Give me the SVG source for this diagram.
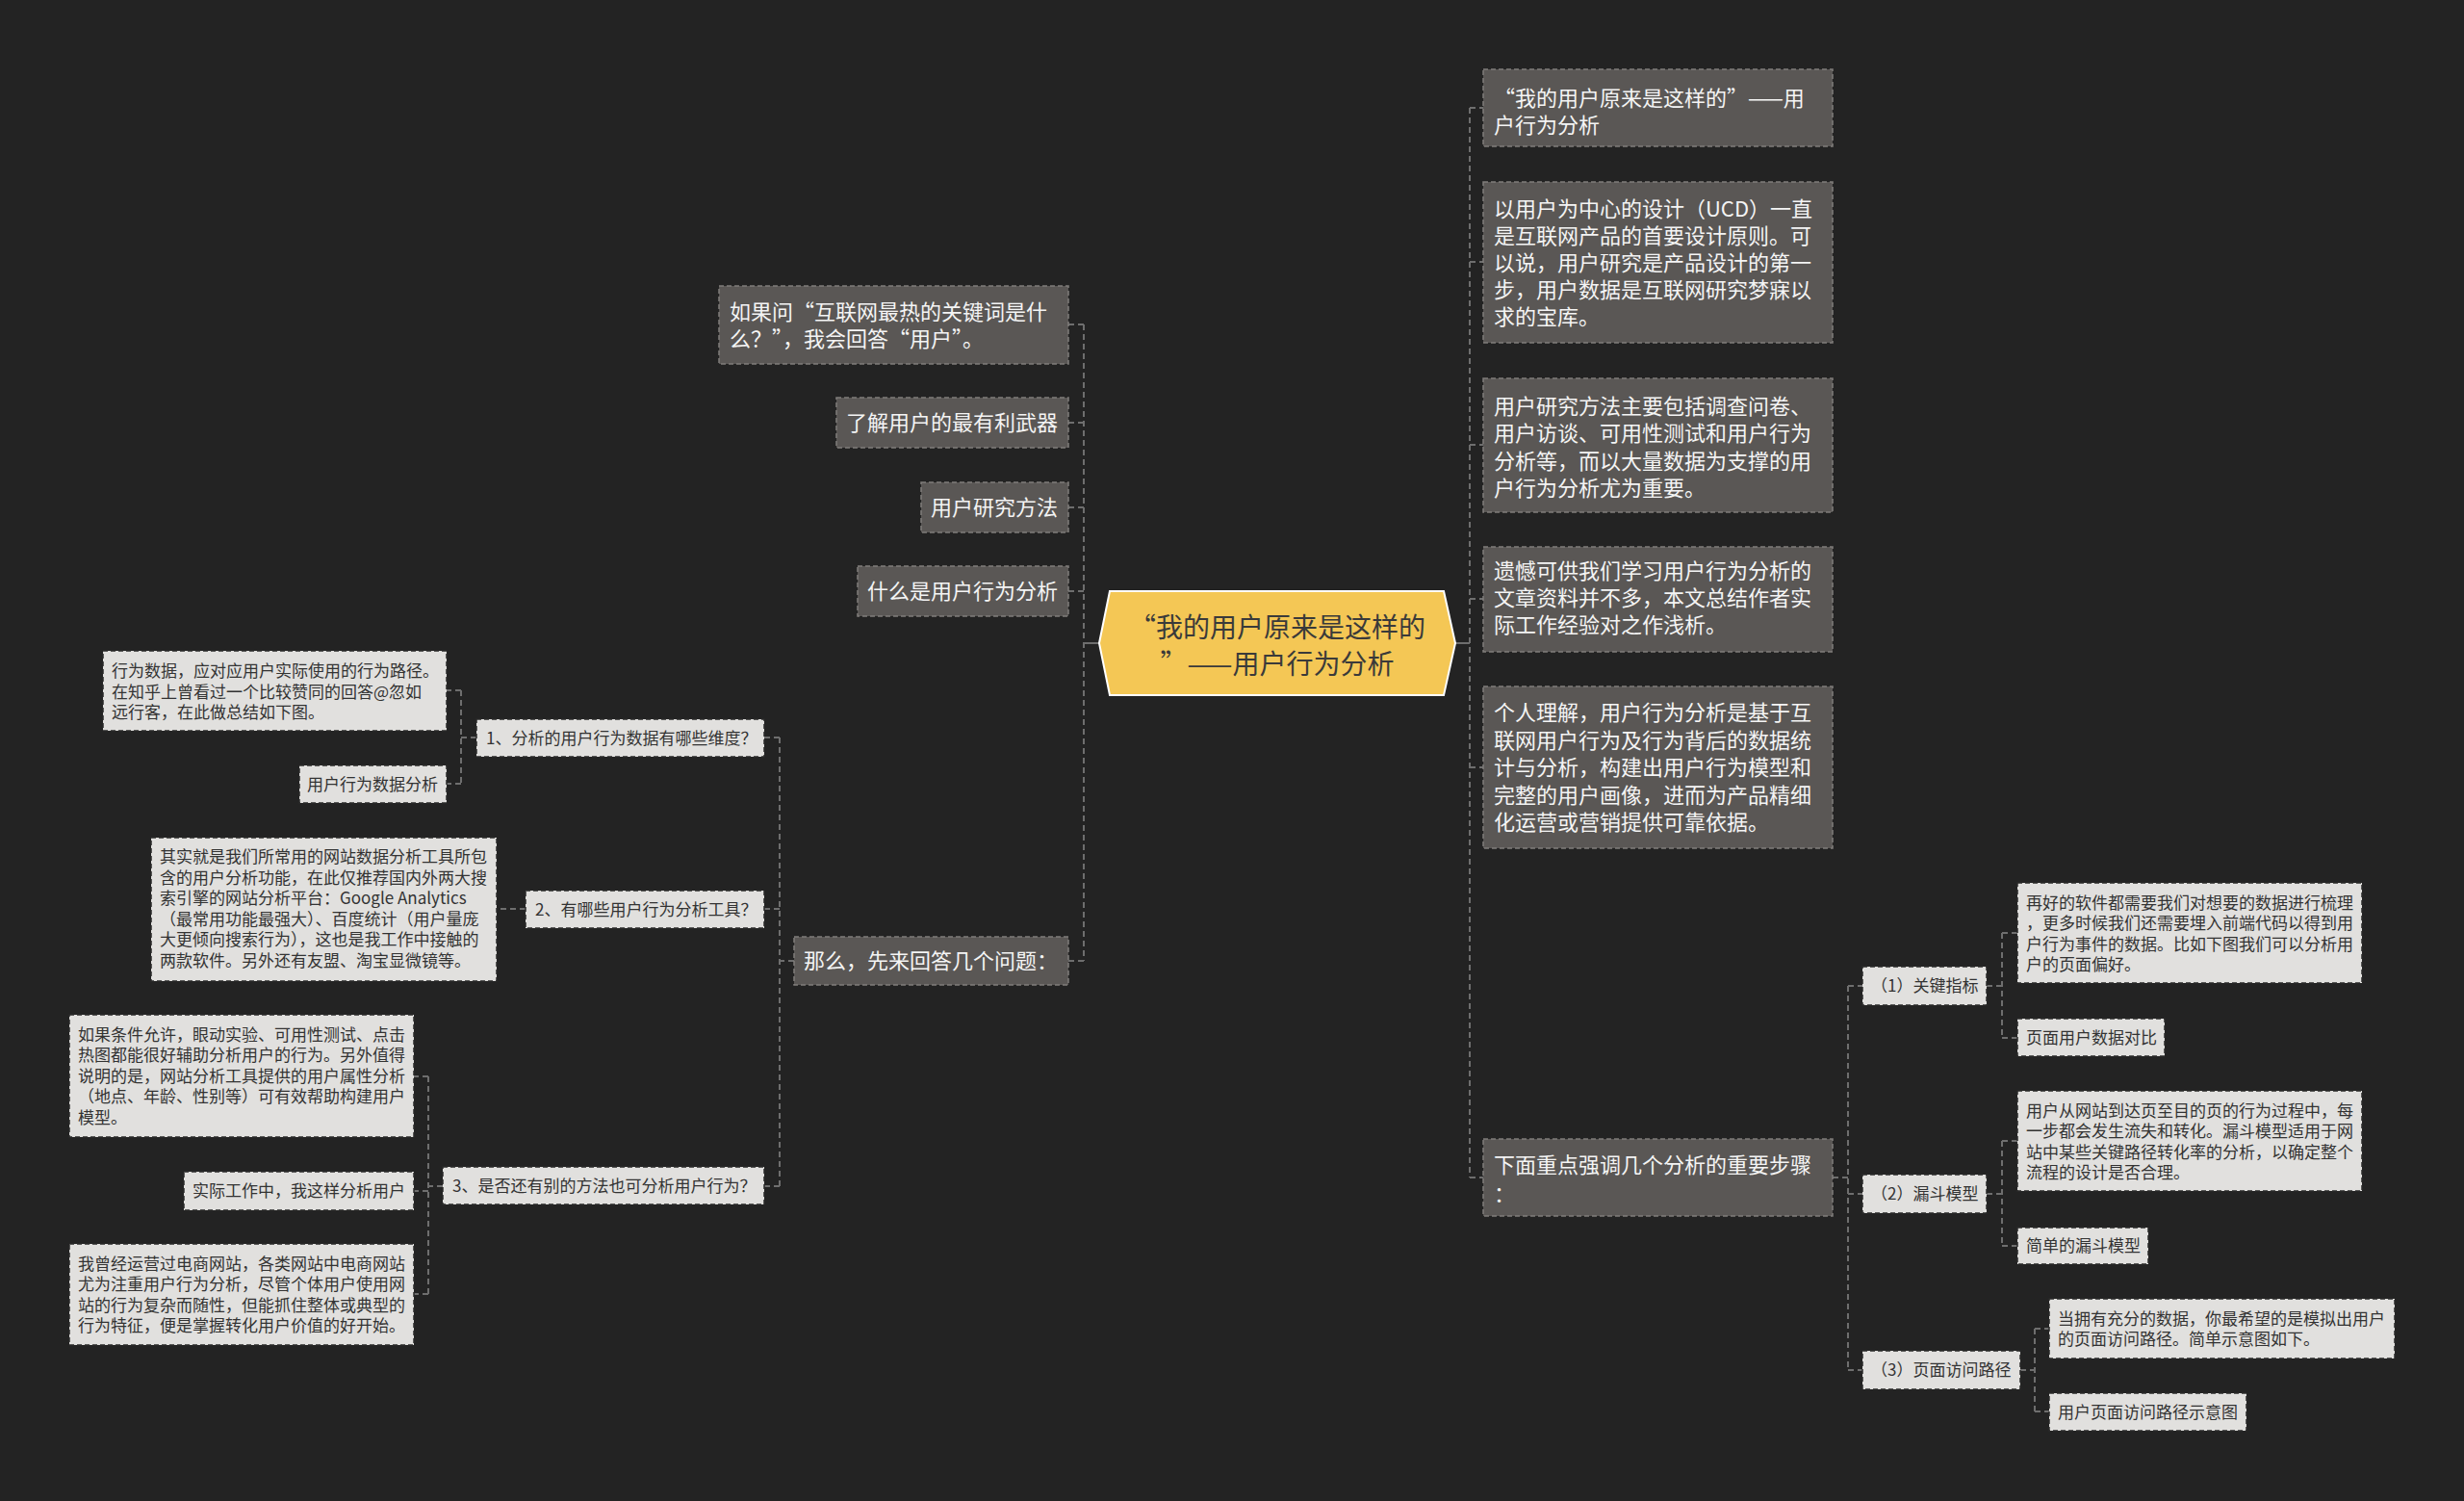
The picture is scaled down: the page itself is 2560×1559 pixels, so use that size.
<svg xmlns="http://www.w3.org/2000/svg" width="2560" height="1559" viewBox="0 0 2560 1559">
<style>
text{font-family:"Noto Sans CJK SC","Noto Sans",sans-serif;}
.dk rect{fill:#5a5755;stroke:#807d7b;stroke-width:1.5;stroke-dasharray:5 3;}
.dk text{fill:#f4f4f4;font-size:22px;}
.lt rect{fill:#e1e0de;stroke:#2a2a2a;stroke-width:1.5;stroke-dasharray:5 3;}
.lt text{fill:#333333;font-size:17px;}
.ln{fill:none;stroke:#6e6e6e;stroke-width:2;stroke-dasharray:6 4;}
.sl{fill:none;stroke:#6e6e6e;stroke-width:2;}
.e{text-anchor:end;}
</style>
<rect x="0" y="0" width="2560" height="1559" fill="#232323"/>

<g id="connectors">
  <path class="sl" d="M1142,668 H1126"/>
  <path class="ln" d="M1126,337 V998"/>
  <path class="ln" d="M1126,337 H1110 M1126,439 H1110 M1126,527 H1110 M1126,614 H1110 M1126,998 H1110"/>
  <path class="sl" d="M1512,668 H1527"/>
  <path class="ln" d="M1527,112 V1223"/>
  <path class="ln" d="M1527,112 H1541 M1527,272 H1541 M1527,462 H1541 M1527,622 H1541 M1527,797 H1541 M1527,1223 H1541"/>
  <path class="ln" d="M825,998 H810 M810,766 V1232 M810,766 H794 M810,944 H794 M810,1232 H794"/>
  <path class="ln" d="M495,766 H479 M479,717 V814 M479,717 H464 M479,814 H464"/>
  <path class="ln" d="M546,944 H516"/>
  <path class="ln" d="M460,1232 H445 M445,1118 V1344 M445,1118 H430 M445,1237 H430 M445,1344 H430"/>
  <path class="ln" d="M1904,1223 H1920 M1920,1024 V1423 M1920,1024 H1935 M1920,1240 H1935 M1920,1423 H1935"/>
  <path class="ln" d="M2064,1024 H2080 M2080,969 V1078 M2080,969 H2096 M2080,1078 H2096"/>
  <path class="ln" d="M2064,1240 H2080 M2080,1185 V1294 M2080,1185 H2096 M2080,1294 H2096"/>
  <path class="ln" d="M2099,1423 H2114 M2114,1380 V1466 M2114,1380 H2129 M2114,1466 H2129"/>
</g>

<g id="root">
  <polygon points="1142,668 1153,614 1500,614 1512,668 1500,722 1153,722" fill="#f4c755" stroke="#ffffff" stroke-width="2"/>
  <text x="1327" y="662" font-size="28" fill="#3a3a3a" text-anchor="middle">“我的用户原来是这样的</text>
  <text x="1327" y="700" font-size="28" fill="#3a3a3a" text-anchor="middle">”——用户行为分析</text>
</g>

<g id="L1" class="dk"><rect x="747" y="297" width="363" height="81"/>
  <text x="758" y="332">如果问“互联网最热的关键词是什</text><text x="758" y="360">么？”，我会回答“用户”。</text></g>
<g id="L2" class="dk"><rect x="869" y="413" width="241" height="52"/><text class="e" x="1099" y="447">了解用户的最有利武器</text></g>
<g id="L3" class="dk"><rect x="957" y="501" width="153" height="52"/><text class="e" x="1099" y="535">用户研究方法</text></g>
<g id="L4" class="dk"><rect x="891" y="588" width="219" height="52"/><text class="e" x="1099" y="622">什么是用户行为分析</text></g>
<g id="L5" class="dk"><rect x="825" y="973" width="285" height="50"/><text class="e" x="1099" y="1006">那么，先来回答几个问题：</text></g>

<g id="R1" class="dk"><rect x="1541" y="72" width="363" height="80"/>
  <text x="1552" y="110">“我的用户原来是这样的”——用</text><text x="1552" y="138">户行为分析</text></g>
<g id="R2" class="dk"><rect x="1541" y="189" width="363" height="167"/>
  <text x="1552" y="225">以用户为中心的设计（UCD）一直</text>
  <text x="1552" y="253">是互联网产品的首要设计原则。可</text>
  <text x="1552" y="281">以说，用户研究是产品设计的第一</text>
  <text x="1552" y="309">步，用户数据是互联网研究梦寐以</text>
  <text x="1552" y="337">求的宝库。</text></g>
<g id="R3" class="dk"><rect x="1541" y="393" width="363" height="139"/>
  <text x="1552" y="430">用户研究方法主要包括调查问卷、</text>
  <text x="1552" y="458">用户访谈、可用性测试和用户行为</text>
  <text x="1552" y="487">分析等，而以大量数据为支撑的用</text>
  <text x="1552" y="515">户行为分析尤为重要。</text></g>
<g id="R4" class="dk"><rect x="1541" y="568" width="363" height="109"/>
  <text x="1552" y="601">遗憾可供我们学习用户行为分析的</text>
  <text x="1552" y="629">文章资料并不多，本文总结作者实</text>
  <text x="1552" y="657">际工作经验对之作浅析。</text></g>
<g id="R5" class="dk"><rect x="1541" y="713" width="363" height="168"/>
  <text x="1552" y="748">个人理解，用户行为分析是基于互</text>
  <text x="1552" y="777">联网用户行为及行为背后的数据统</text>
  <text x="1552" y="805">计与分析，构建出用户行为模型和</text>
  <text x="1552" y="834">完整的用户画像，进而为产品精细</text>
  <text x="1552" y="862">化运营或营销提供可靠依据。</text></g>
<g id="R6" class="dk"><rect x="1541" y="1183" width="363" height="80"/>
  <text x="1552" y="1218">下面重点强调几个分析的重要步骤</text><text x="1552" y="1248">：</text></g>

<g id="A1" class="lt"><rect x="495" y="747" width="299" height="39"/><text x="505" y="773">1、分析的用户行为数据有哪些维度？</text></g>
<g id="B1" class="lt"><rect x="107" y="676" width="357" height="83"/>
  <text x="116" y="703">行为数据，应对应用户实际使用的行为路径。</text>
  <text x="116" y="725">在知乎上曾看过一个比较赞同的回答@忽如</text>
  <text x="116" y="746">远行客，在此做总结如下图。</text></g>
<g id="B2" class="lt"><rect x="311" y="795" width="153" height="39"/><text class="e" x="455" y="821">用户行为数据分析</text></g>
<g id="A2" class="lt"><rect x="546" y="925" width="248" height="39"/><text x="556" y="951">2、有哪些用户行为分析工具？</text></g>
<g id="B3" class="lt"><rect x="157" y="870" width="359" height="149"/>
  <text x="166" y="896">其实就是我们所常用的网站数据分析工具所包</text>
  <text x="166" y="918">含的用户分析功能，在此仅推荐国内外两大搜</text>
  <text x="166" y="939">索引擎的网站分析平台：Google Analytics</text>
  <text x="166" y="961">（最常用功能最强大）、百度统计（用户量庞</text>
  <text x="166" y="982">大更倾向搜索行为），这也是我工作中接触的</text>
  <text x="166" y="1004">两款软件。另外还有友盟、淘宝显微镜等。</text></g>
<g id="A3" class="lt"><rect x="460" y="1212" width="334" height="39"/><text x="470" y="1238">3、是否还有别的方法也可分析用户行为？</text></g>
<g id="C1" class="lt"><rect x="72" y="1054" width="358" height="127"/>
  <text x="81" y="1081">如果条件允许，眼动实验、可用性测试、点击</text>
  <text x="81" y="1102">热图都能很好辅助分析用户的行为。另外值得</text>
  <text x="81" y="1124">说明的是，网站分析工具提供的用户属性分析</text>
  <text x="81" y="1145">（地点、年龄、性别等）可有效帮助构建用户</text>
  <text x="81" y="1167">模型。</text></g>
<g id="C2" class="lt"><rect x="191" y="1217" width="239" height="40"/><text class="e" x="421" y="1243">实际工作中，我这样分析用户</text></g>
<g id="C3" class="lt"><rect x="72" y="1292" width="358" height="105"/>
  <text x="81" y="1319">我曾经运营过电商网站，各类网站中电商网站</text>
  <text x="81" y="1340">尤为注重用户行为分析，尽管个体用户使用网</text>
  <text x="81" y="1362">站的行为复杂而随性，但能抓住整体或典型的</text>
  <text x="81" y="1383">行为特征，便是掌握转化用户价值的好开始。</text></g>

<g id="K1" class="lt"><rect x="1935" y="1004" width="129" height="40"/><text x="1944" y="1030">（1）关键指标</text></g>
<g id="D1" class="lt"><rect x="2096" y="917" width="358" height="104"/>
  <text x="2105" y="944">再好的软件都需要我们对想要的数据进行梳理</text>
  <text x="2105" y="965">，更多时候我们还需要埋入前端代码以得到用</text>
  <text x="2105" y="987">户行为事件的数据。比如下图我们可以分析用</text>
  <text x="2105" y="1008">户的页面偏好。</text></g>
<g id="D2" class="lt"><rect x="2096" y="1058" width="153" height="39"/><text x="2105" y="1084">页面用户数据对比</text></g>
<g id="K2" class="lt"><rect x="1935" y="1220" width="129" height="40"/><text x="1944" y="1246">（2）漏斗模型</text></g>
<g id="D3" class="lt"><rect x="2096" y="1133" width="358" height="104"/>
  <text x="2105" y="1160">用户从网站到达页至目的页的行为过程中，每</text>
  <text x="2105" y="1181">一步都会发生流失和转化。漏斗模型适用于网</text>
  <text x="2105" y="1203">站中某些关键路径转化率的分析，以确定整个</text>
  <text x="2105" y="1224">流程的设计是否合理。</text></g>
<g id="D4" class="lt"><rect x="2096" y="1275" width="136" height="38"/><text x="2105" y="1300">简单的漏斗模型</text></g>
<g id="K3" class="lt"><rect x="1935" y="1403" width="164" height="40"/><text x="1944" y="1429">（3）页面访问路径</text></g>
<g id="E1" class="lt"><rect x="2129" y="1349" width="359" height="62"/>
  <text x="2138" y="1376">当拥有充分的数据，你最希望的是模拟出用户</text>
  <text x="2138" y="1397">的页面访问路径。简单示意图如下。</text></g>
<g id="E2" class="lt"><rect x="2129" y="1447" width="205" height="39"/><text x="2138" y="1473">用户页面访问路径示意图</text></g>
</svg>
